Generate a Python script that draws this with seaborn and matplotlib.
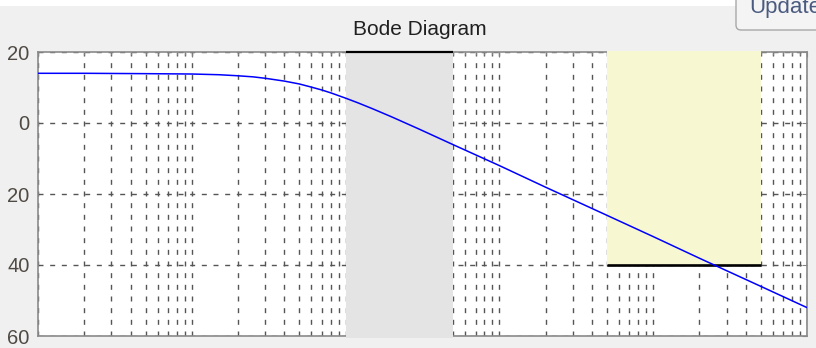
import matplotlib
matplotlib.use("Agg")
import matplotlib.pyplot as plt
import pandas as pd
import seaborn as sns
from matplotlib.patches import Rectangle, FancyBboxPatch
from matplotlib.ticker import LogLocator, FixedLocator, FixedFormatter, NullFormatter

# Open-loop magnitude response (rad/s, dB)
freq_rad_s = [0.01, 0.02, 0.05, 0.1, 0.15, 0.2, 0.25, 0.3, 0.4, 0.5, 0.6, 0.7,
              0.8, 1, 1.2, 1.5, 2, 3, 5, 10, 20, 50, 100, 200, 500, 1000]
magnitude_db = [14.0, 14.0, 13.9, 13.8, 13.6, 13.3, 13.0, 12.6, 11.8, 11.0, 10.1, 9.3,
                8.5, 7.0, 5.7, 4.0, 1.7, -1.7, -6.1, -12.0, -18.1, -26.0, -32.0,
                -38.1, -46.0, -52.0]

# Design constraints
gray_band_freq = [1, 5]            # band shaded across the full magnitude range
gain_bound_freq = [50, 500]        # upper gain limit band
gain_bound_db = -40

y_ticks = [20, 0, -20, -40, -60]
y_tick_labels = ["20", "0", "20", "40", "60"]
x_limits = [0.01, 1000]
y_limits = [-60, 20]

sns.set_style("white")
plt.rcParams["font.family"] = ["Liberation Sans", "DejaVu Sans"]

W, H = 816, 348
fig = plt.figure(figsize=(W / 100, H / 100), dpi=100, facecolor="#f0f0f0")

# thin white strip along the top edge of the window
fig.patches.append(Rectangle((0, 1 - 6 / H), 1, 6 / H, transform=fig.transFigure,
                             facecolor="white", edgecolor="none", zorder=0))

# Update button in the top-right corner
fig.patches.append(FancyBboxPatch((7.36, 3.18), 1.2, 1.0, transform=fig.dpi_scale_trans,
                                  boxstyle="round,pad=0,rounding_size=0.05",
                                  facecolor="#f4f4f4", edgecolor="#a8a8a8", lw=1.0, zorder=1))
fig.text(749 / W, 1 - 13 / H, "Update", ha="left", va="baseline", fontsize=16,
         color="#4a5a80", zorder=2)

ax = fig.add_axes([38 / W, 12 / H, 769 / W, 284 / H])
ax.set_facecolor("white")
ax.set_xscale("log")

df = pd.DataFrame({"freq": freq_rad_s, "mag": magnitude_db})
sns.lineplot(data=df, x="freq", y="mag", ax=ax, color="#0000ff", lw=1.1,
             zorder=5, legend=False)

ax.set_xlim(*x_limits)
ax.set_ylim(*y_limits)
ax.set_xlabel("")
ax.set_ylabel("")

# decade and sub-decade grid
ax.xaxis.set_major_locator(LogLocator(base=10, numticks=20))
ax.xaxis.set_minor_locator(LogLocator(base=10, subs=range(2, 10), numticks=50))
ax.xaxis.set_major_formatter(NullFormatter())
ax.xaxis.set_minor_formatter(NullFormatter())
ax.yaxis.set_major_locator(FixedLocator(y_ticks))
ax.yaxis.set_major_formatter(FixedFormatter(y_tick_labels))

grid_style = dict(color="#555555", lw=1.0, ls=(0, (3.6, 4.8)))
ax.grid(True, which="both", axis="x", **grid_style)
ax.grid(True, which="major", axis="y", **grid_style)
ax.set_axisbelow(True)

ax.tick_params(which="both", direction="in", top=True, right=True, color="#808080")
ax.tick_params(which="major", length=3.6, width=0.8)
ax.tick_params(which="minor", length=2.2, width=0.8)
ax.tick_params(axis="y", labelsize=14.5, labelcolor="#504a44", pad=6)

for sp in ax.spines.values():
    sp.set_color("#8a8a8a")
    sp.set_linewidth(1.2)

# shaded constraint regions, drawn over the grid and frame
ax.add_patch(Rectangle((gray_band_freq[0], y_limits[0] - 0.45),
                       gray_band_freq[1] - gray_band_freq[0],
                       y_limits[1] - y_limits[0] + 0.45,
                       facecolor="#e4e4e4", edgecolor="none", zorder=3, clip_on=False))
ax.plot(gray_band_freq, [y_limits[1]] * 2, color="black", lw=1.6, zorder=4,
        clip_on=False, solid_capstyle="butt")

ax.add_patch(Rectangle((gain_bound_freq[0], gain_bound_db),
                       gain_bound_freq[1] - gain_bound_freq[0],
                       y_limits[1] - gain_bound_db + 0.3,
                       facecolor="#f7f7d2", edgecolor="none", zorder=3, clip_on=False))
ax.plot(gain_bound_freq, [gain_bound_db] * 2, color="black", lw=1.9, zorder=4,
        solid_capstyle="butt")

fig.text(420 / W, 1 - 35 / H, "Bode Diagram", ha="center", va="baseline",
         fontsize=15, color="#202020")

fig.savefig("out.png", dpi=100, facecolor=fig.get_facecolor())
